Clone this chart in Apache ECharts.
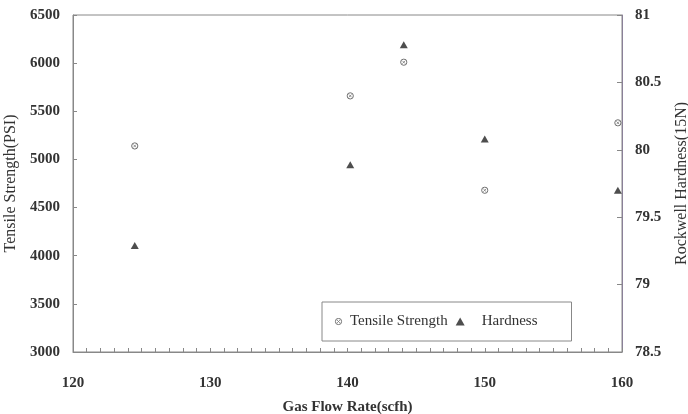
<!DOCTYPE html>
<html>
<head>
<meta charset="utf-8">
<script src="https://cdn.jsdelivr.net/npm/echarts@6/dist/echarts.min.js"></script>
<style>html,body{margin:0;padding:0;background:#fff}#c{width:688px;height:414px}</style>
</head>
<body>
<div id="c"></div>
<script>
// Data
var flowRate = [124.5, 140.2, 144.1, 150.0, 159.7];
var tensileStrength = [5140, 5660, 6010, 4680, 5380];
var hardness = [79.29, 79.89, 80.78, 80.08, 79.70];
var xTicks = [120, 130, 140, 150, 160];
var leftTicks = [3000, 3500, 4000, 4500, 5000, 5500, 6000, 6500];
var rightTicks = [78.5, 79, 79.5, 80, 80.5, 81];

var circleSvg = "<svg xmlns='http://www.w3.org/2000/svg' width='10' height='10' viewBox='0 0 10 10'>" +
  "<circle cx='5' cy='5' r='3.9' fill='none' stroke='#444' stroke-width='1.2'/>" +
  "<path d='M3.2 3.2L6.8 6.8M6.8 3.2L3.2 6.8' stroke='#555' stroke-width='1'/></svg>";
var circleSym = 'image://data:image/svg+xml;charset=utf-8,' + encodeURIComponent(circleSvg);

var serif = '"Liberation Serif", "DejaVu Serif", serif';
var chart = echarts.init(document.getElementById('c'), null, {renderer: 'canvas'});
chart.setOption({
  animation: false,
  backgroundColor: '#fff',
  grid: {left: 73, right: 66, top: 15, bottom: 62, show: true, borderColor: '#888', borderWidth: 1,
         containLabel: false, outerBoundsMode: 'none'},
  xAxis: {
    type: 'value', min: xTicks[0], max: xTicks[xTicks.length - 1], interval: 10,
    name: 'Gas Flow Rate(scfh)', nameLocation: 'middle', nameGap: 48,
    nameTextStyle: {fontFamily: serif, fontSize: 15, fontWeight: 'bold', color: '#333'},
    axisLine: {lineStyle: {color: '#888'}},
    axisTick: {inside: true, length: 4, lineStyle: {color: '#888'}},
    minorTick: {show: true, splitNumber: 10, length: 4, lineStyle: {color: '#888'}},
    axisLabel: {fontFamily: serif, fontSize: 15, fontWeight: 'bold', color: '#333', margin: 24},
    splitLine: {show: false}
  },
  yAxis: [{
    type: 'value', min: leftTicks[0], max: leftTicks[leftTicks.length - 1], interval: 500,
    name: 'Tensile Strength(PSI)', nameLocation: 'middle', nameGap: 45, nameRotate: 90,
    nameTextStyle: {fontFamily: serif, fontSize: 16, color: '#333'},
    axisLine: {show: true, lineStyle: {color: '#888'}},
    axisTick: {show: true, inside: true, length: 4, lineStyle: {color: '#888'}},
    axisLabel: {fontFamily: serif, fontSize: 15, fontWeight: 'bold', color: '#333', margin: 13,
                formatter: function (v) { return String(v); }},
    splitLine: {show: false}
  }, {
    type: 'value', position: 'right', min: rightTicks[0], max: rightTicks[rightTicks.length - 1], interval: 0.5,
    name: 'Rockwell Hardness(15N)', nameLocation: 'middle', nameGap: 52, nameRotate: 90,
    nameTextStyle: {fontFamily: serif, fontSize: 16, color: '#333'},
    axisLine: {show: true, lineStyle: {color: '#8a8098'}},
    axisTick: {show: true, inside: true, length: 5, lineStyle: {color: '#888'}},
    axisLabel: {fontFamily: serif, fontSize: 15, fontWeight: 'bold', color: '#333', margin: 13,
                formatter: function (v) { return String(v); }},
    splitLine: {show: false}
  }],
  legend: {
    left: 322, top: 302,
    orient: 'horizontal',
    padding: [12, 34, 12, 12],
    borderColor: '#888', borderWidth: 1,
    itemWidth: 9, itemHeight: 8, itemGap: 8,
    textStyle: {fontFamily: serif, fontSize: 15, color: '#333', padding: [0, 0, 0, 2]},
    data: [
      {name: 'Tensile Strength', icon: circleSym},
      {name: 'Hardness', icon: 'triangle', itemStyle: {color: '#222'}, textStyle: {padding: [0, 0, 0, 12]}}
    ]
  },
  series: [{
    name: 'Tensile Strength', type: 'scatter', yAxisIndex: 0,
    symbol: circleSym, symbolSize: 8,
    data: flowRate.map(function (x, i) { return [x, tensileStrength[i]]; })
  }, {
    name: 'Hardness', type: 'scatter', yAxisIndex: 1,
    symbol: 'triangle', symbolSize: [8, 7],
    itemStyle: {color: '#222'},
    data: flowRate.map(function (x, i) { return [x, hardness[i]]; })
  }]
});
</script>
</body>
</html>
